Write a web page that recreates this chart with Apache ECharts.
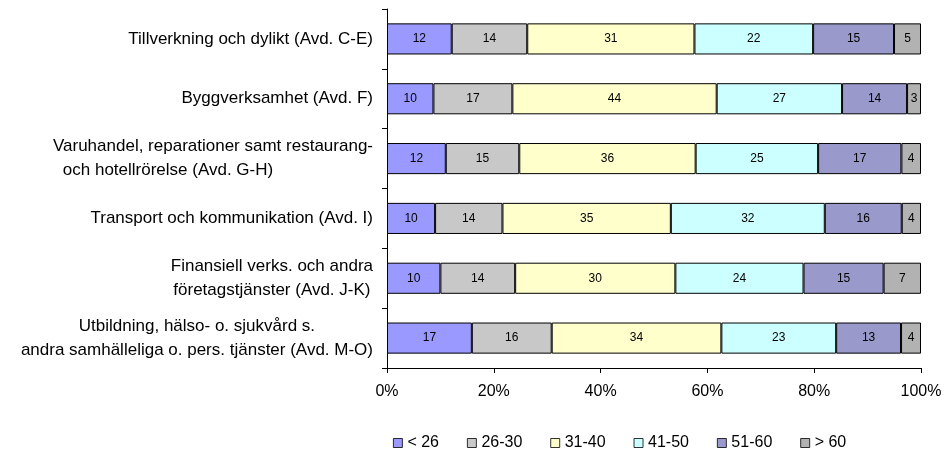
<!DOCTYPE html>
<html>
<head>
<meta charset="utf-8">
<script src="https://cdn.jsdelivr.net/npm/echarts@6/dist/echarts.min.js"></script>
<style>html,body{margin:0;padding:0;background:#fff}#c{width:946px;height:453px}</style>
</head>
<body>
<div id="c"></div>
<script>
var categories = [
  "Tillverkning och dylikt (Avd. C-E)",
  "Byggverksamhet (Avd. F)",
  "Varuhandel, reparationer samt restaurang-\noch hotellrörelse (Avd. G-H)",
  "Transport och kommunikation (Avd. I)",
  "Finansiell verks. och andra\nföretagstjänster (Avd. J-K)",
  "Utbildning, hälso- o. sjukvård s.\nandra samhälleliga o. pers. tjänster (Avd. M-O)"
];
var seriesNames = ["< 26", "26-30", "31-40", "41-50", "51-60", "> 60"];
var lt26  = [12, 10, 12, 10, 10, 17];
var a2630 = [14, 17, 15, 14, 14, 16];
var a3140 = [31, 44, 36, 35, 30, 34];
var a4150 = [22, 27, 25, 32, 24, 23];
var a5160 = [15, 14, 17, 16, 15, 13];
var gt60  = [5, 3, 4, 4, 7, 4];
var xTicks = ["0%", "20%", "40%", "60%", "80%", "100%"];

var colors = ["#9999FF", "#C8C8C8", "#FFFFCC", "#CCFFFF", "#9999CC", "#B2B2B2"];
var raw = [lt26, a2630, a3140, a4150, a5160, gt60];
var totals = categories.map(function (_, i) {
  return raw.reduce(function (s, arr) { return s + arr[i]; }, 0);
});

var series = raw.map(function (arr, k) {
  return {
    name: seriesNames[k],
    type: 'bar',
    stack: 'total',
    barWidth: '52%',
    data: arr.map(function (v, i) { return { value: v / totals[i] * 100, raw: v }; }),
    itemStyle: { color: colors[k], borderColor: '#000', borderWidth: 1 },
    label: {
      show: true,
      position: 'inside',
      color: '#000',
      fontFamily: 'Liberation Sans, Arial, sans-serif',
      fontSize: 12,
      formatter: function (p) { return p.data.raw; }
    },
    emphasis: { disabled: true }
  };
});

var chart = echarts.init(document.getElementById('c'));
chart.setOption({
  animation: false,
  textStyle: { fontFamily: 'Liberation Sans, Arial, sans-serif' },
  grid: { left: 387, right: 25, top: 9, bottom: 85, containLabel: false },
  legend: {
    top: 430,
    left: 388,
    itemWidth: 9,
    itemHeight: 9,
    itemGap: 28,
    icon: 'rect',
    textStyle: { fontSize: 16, color: '#000' },
    data: seriesNames.map(function (n, k) {
      return { name: n, itemStyle: { color: colors[k], borderColor: '#000', borderWidth: 0.8 } };
    })
  },
  xAxis: {
    type: 'value',
    min: 0, max: 100, interval: 20,
    axisLine: { show: true, lineStyle: { color: '#000' } },
    axisTick: { show: true, length: 5, lineStyle: { color: '#000' } },
    splitLine: { show: false },
    axisLabel: {
      fontSize: 16, color: '#000', margin: 16,
      formatter: function (v) { return xTicks[Math.round(v / 20)]; }
    }
  },
  yAxis: {
    type: 'category',
    inverse: true,
    data: categories,
    axisLine: { show: true, lineStyle: { color: '#000' } },
    axisTick: { show: true, length: 5, lineStyle: { color: '#000' } },
    axisLabel: {
      margin: 14,
      color: '#000',
      fontSize: 17,
      lineHeight: 24,
      align: 'right',
      formatter: function (v, idx) {
        return v.split('\n').map(function (l, j) {
          var style = (idx === 2 && j === 1) ? 'p' : 'c';
          return '{' + style + '|' + l + '}';
        }).join('\n');
      },
      rich: {
        c: { align: 'center', fontSize: 17, lineHeight: 24, color: '#000' },
        p: { align: 'center', fontSize: 17, lineHeight: 24, color: '#000', padding: [0, 90, 0, 0] }
      }
    }
  },
  series: series
});
</script>
</body>
</html>
